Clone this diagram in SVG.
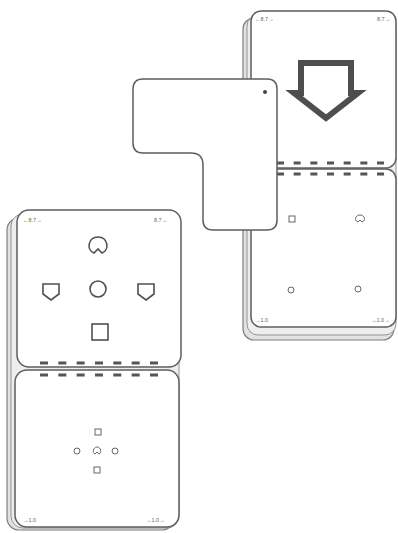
<svg xmlns="http://www.w3.org/2000/svg" width="398" height="533" viewBox="0 0 398 533">
<style>
.layer{fill:#e2e2e2;stroke:#808080;stroke-width:1.2}
.layer2{fill:#eeeeee;stroke:#949494;stroke-width:1}
.card{fill:#ffffff;stroke:#5e5e5e;stroke-width:1.5}
.dash{stroke:#555555;stroke-width:3;fill:none}
.sym{fill:#ffffff;stroke:#505050;stroke-width:1.6}
.sm{fill:#ffffff;stroke:#666666;stroke-width:1}
.lbl{font-family:"Liberation Sans",Arial,sans-serif;font-size:5.5px;fill:#666}
</style>
<rect width="398" height="533" fill="#ffffff"/>

<g id="right-stack">
  <rect class="layer" x="243" y="18" width="151" height="322" rx="11"/>
  <rect class="layer2" x="247" y="15" width="149" height="320" rx="11"/>
  <g id="right-upper-card">
    <rect class="card" x="251" y="11" width="145" height="157" rx="10"/>
    <text class="lbl" x="255" y="21">←8.7→</text>
    <text class="lbl" x="377" y="21">8.7→</text>
    <polygon points="301,63 351,63 351,93 358,93 326,118 294,93 301,93" fill="#ffffff" stroke="#4e4e4e" stroke-width="6" stroke-linejoin="miter"/>
    <line class="dash" x1="277" y1="163" x2="384" y2="163" stroke-dasharray="7 9.67"/>
  </g>
  <g id="right-lower-card">
    <rect class="card" x="251" y="169" width="145" height="158" rx="10"/>
    <line class="dash" x1="277" y1="174" x2="384" y2="174" stroke-dasharray="7 9.67"/>
    <rect class="sm" x="289" y="216" width="6" height="6"/>
    <path class="sm" d="M358,222 C354,221 355,215 360,215 C365,215 366,221 362,222 L360,220 Z"/>
    <circle class="sm" cx="291" cy="290" r="3"/>
    <circle class="sm" cx="358" cy="289" r="3"/>
    <text class="lbl" x="255" y="322">→1.0</text>
    <text class="lbl" x="371" y="322">→1.0→</text>
  </g>
</g>

<g id="l-card">
  <path class="card" d="M143,79 H267 Q277,79 277,89 V220 Q277,230 267,230 H213 Q203,230 203,220 V165 Q203,153 191,153 H143 Q133,153 133,143 V89 Q133,79 143,79 Z"/>
  <circle cx="265" cy="92" r="2" fill="#444"/>
</g>

<g id="left-stack">
  <rect class="layer" x="7" y="218" width="167" height="312" rx="12"/>
  <rect class="layer2" x="11" y="214" width="168" height="314" rx="12"/>
  <g id="left-upper-card">
    <rect class="card" x="17" y="210" width="164" height="157" rx="12"/>
    <text class="lbl" x="23" y="222">←8.7→</text>
    <text class="lbl" x="154" y="222">8.7→</text>
    <path class="sym" d="M94,253 C86,250 88,237 98,237 C108,237 110,250 102,253 L98,249 Z"/>
    <polygon class="sym" points="43,284 59,284 59,294 51,300 43,294"/>
    <circle class="sym" cx="98" cy="289" r="8"/>
    <polygon class="sym" points="138,284 154,284 154,294 146,300 138,294"/>
    <rect class="sym" x="92" y="324" width="16" height="16"/>
    <line class="dash" x1="40" y1="363" x2="158" y2="363" stroke-dasharray="8 10.33"/>
  </g>
  <g id="left-lower-card">
    <rect class="card" x="15" y="370" width="164" height="157" rx="12"/>
    <line class="dash" x1="40" y1="375" x2="158" y2="375" stroke-dasharray="8 10.33"/>
    <rect class="sm" x="95" y="429" width="6" height="6"/>
    <circle class="sm" cx="77" cy="451" r="3"/>
    <path class="sm" d="M95,454 C92,453 93,447 97,447 C101,447 102,453 99,454 L97,452 Z"/>
    <circle class="sm" cx="115" cy="451" r="3"/>
    <rect class="sm" x="94" y="467" width="6" height="6"/>
    <text class="lbl" x="23" y="522">→1.0</text>
    <text class="lbl" x="146" y="522">→1.0→</text>
  </g>
</g>
</svg>
